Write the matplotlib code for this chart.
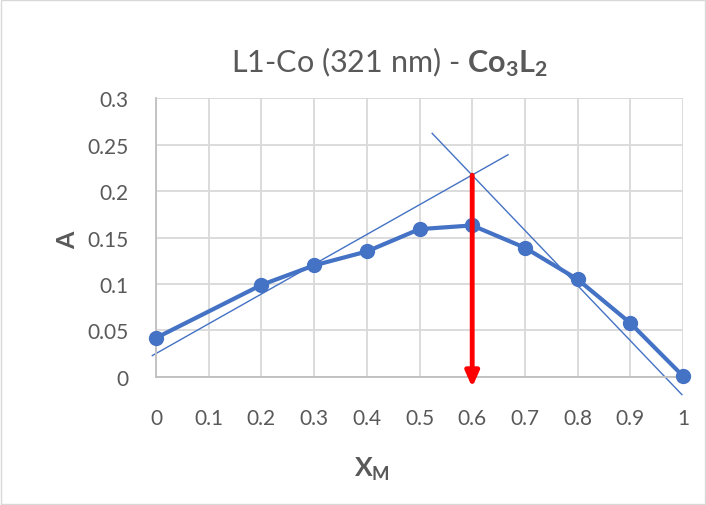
import matplotlib
matplotlib.use("Agg")
import matplotlib.pyplot as plt
import numpy as np

# Job plot data (mole fraction of metal vs absorbance at 321 nm)
x_m = [0, 0.2, 0.3, 0.4, 0.5, 0.6, 0.7, 0.8, 0.9, 1.0]
absorb = [0.042, 0.099, 0.120, 0.135, 0.159, 0.163, 0.139, 0.105, 0.058, 0.001]

# tangent lines drawn on the chart (endpoints)
tan1_x = [-0.007, 0.668]
tan1_y = [0.023, 0.239]
tan2_x = [0.524, 0.998]
tan2_y = [0.262, -0.019]

# red arrow marking the intersection
arrow_x = 0.6
arrow_top = 0.217
arrow_bottom = -0.011

blue = "#4472C4"
grey_text = "#595959"

plt.rcParams["font.family"] = ["Lato", "DejaVu Sans"]
plt.rcParams["mathtext.fontset"] = "custom"
plt.rcParams["mathtext.rm"] = "Lato"
plt.rcParams["mathtext.bf"] = "Lato:bold"

fig = plt.figure(figsize=(7.06, 5.06), dpi=100)
ax = fig.add_axes([0.221, 0.253, 0.9674 - 0.221, 0.8043 - 0.253])

ax.plot(tan1_x, tan1_y, color=blue, lw=1.0, zorder=2, clip_on=False)
ax.plot(tan2_x, tan2_y, color=blue, lw=1.0, zorder=2, clip_on=False)
ax.plot(x_m, absorb, color=blue, lw=3, marker="o", ms=10, zorder=3, clip_on=False)

ax.annotate("", xy=(arrow_x, arrow_bottom), xytext=(arrow_x, arrow_top),
            arrowprops=dict(arrowstyle="-|>,head_length=0.9,head_width=0.4",
                            color="#FF0000", lw=3.5, shrinkA=0, shrinkB=0),
            zorder=4, annotation_clip=False)

ax.set_xlim(0, 1)
ax.set_ylim(0, 0.3)
ax.set_xticks(np.arange(0, 1.01, 0.1))
ax.set_xticklabels(["0", "0.1", "0.2", "0.3", "0.4", "0.5", "0.6", "0.7", "0.8", "0.9", "1"])
ax.set_yticks(np.arange(0, 0.301, 0.05))
ax.set_yticklabels(["0", "0.05", "0.1", "0.15", "0.2", "0.25", "0.3"])
ax.tick_params(length=0, labelsize=15, colors=grey_text)
ax.tick_params(axis="x", pad=22)
ax.tick_params(axis="y", pad=20)
ax.grid(True, color="#D9D9D9", lw=1.3)
ax.set_axisbelow(True)
for s in ["top", "right"]:
    ax.spines[s].set_visible(False)
for s in ["left", "bottom"]:
    ax.spines[s].set_color("#BFBFBF")
    ax.spines[s].set_linewidth(1.3)

fig.text(0.552, 0.877, r"L1-Co (321 nm) - $\mathbf{Co_3L_2}$", ha="center", va="center",
         fontsize=22, color=grey_text)
fig.text(0.096, 0.526, "A", rotation=90, ha="center", va="center",
         fontsize=18, fontweight="bold", color=grey_text)
fig.text(0.527, 0.072, r"$\mathbf{X_M}$", ha="center", va="center",
         fontsize=19, color=grey_text)

# light chart border
fig.patches.append(plt.Rectangle((0.002, 0.002), 0.996, 0.996, transform=fig.transFigure,
                                 fill=False, edgecolor="#D9D9D9", lw=1))

fig.savefig("out.png", dpi=100)
